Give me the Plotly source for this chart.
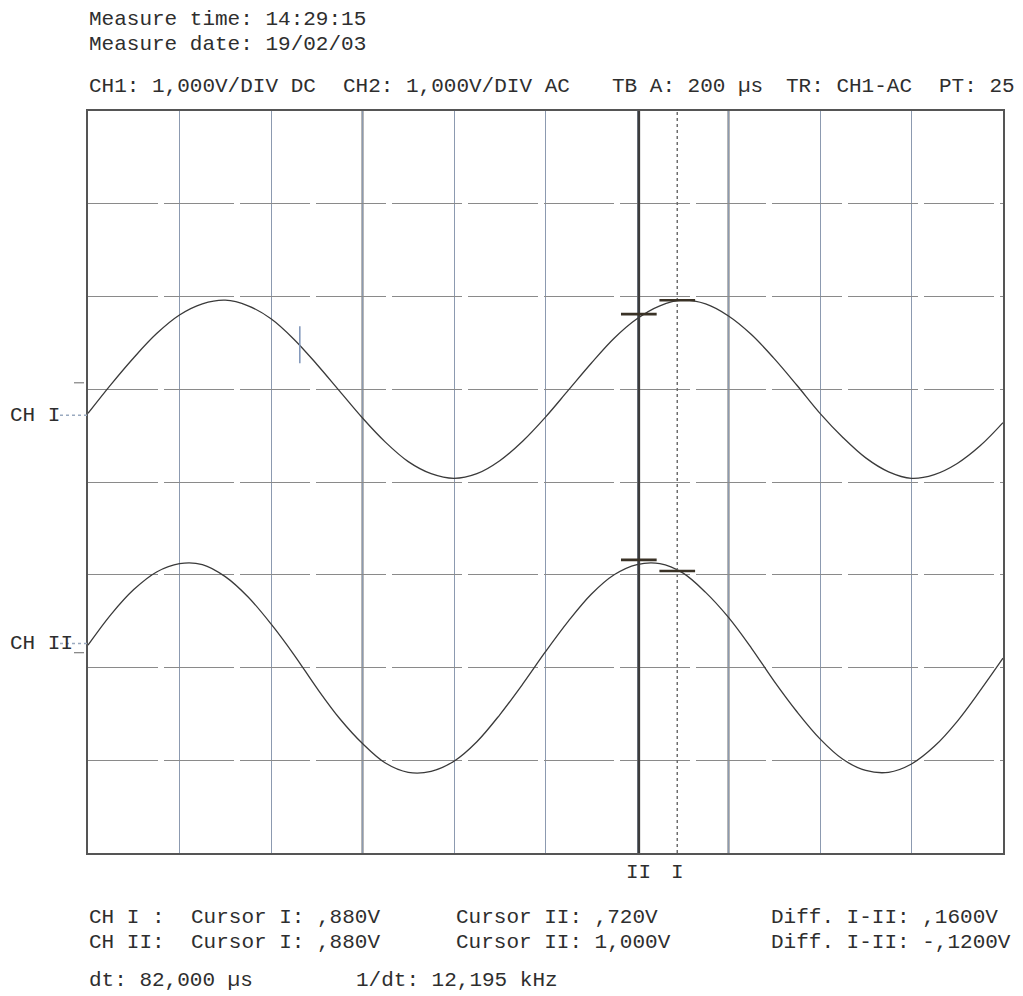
import plotly.graph_objects as go

# ---------------- data ----------------
time_us = [0, 50, 100, 150, 200, 250, 300, 350, 400, 450,
           500, 550, 600, 650, 700, 750, 800, 850, 900, 950,
           1000, 1050, 1100, 1150, 1200, 1250, 1300, 1350, 1400, 1450,
           1500, 1550, 1600, 1650, 1700, 1750, 1800, 1850, 1900, 1950, 2000]

# screen divisions (0 = centre line, +-4 = frame)
ch1_div = [0.74, 1.05, 1.34, 1.60, 1.80, 1.92, 1.96, 1.90, 1.76, 1.54,
           1.27, 0.98, 0.69, 0.43, 0.22, 0.09, 0.04, 0.09, 0.23, 0.44,
           0.70, 0.99, 1.28, 1.55, 1.76, 1.90, 1.96, 1.92, 1.79, 1.59,
           1.33, 1.04, 0.74, 0.48, 0.26, 0.11, 0.04, 0.08, 0.20, 0.39, 0.64]

ch2_div = [-1.76, -1.43, -1.16, -0.97, -0.88, -0.89, -1.02, -1.24, -1.53, -1.86,
           -2.22, -2.55, -2.82, -3.03, -3.13, -3.12, -3.01, -2.80, -2.51, -2.18,
           -1.83, -1.50, -1.21, -1.00, -0.89, -0.88, -0.98, -1.19, -1.46, -1.79,
           -2.15, -2.48, -2.77, -2.99, -3.11, -3.13, -3.04, -2.85, -2.58, -2.25, -1.90]

cursor_names = ["I", "II"]
cursor_time_us = [1288, 1204]
ch1_cursor_div = [1.96, 1.81]
ch2_cursor_div = [-0.96, -0.84]

channel_names = ["CH I", "CH II"]
ground_div = [0.72, -1.74]
trig_level_div = [1.07, -1.84]

trigger_time_us = 463
trigger_mark_div = 1.48

header_lines = ["Measure time: 14:29:15", "Measure date: 19/02/03"]
setup_items = ["CH1: 1,000V/DIV DC", "CH2: 1,000V/DIV AC", "TB A: 200 µs",
               "TR: CH1-AC", "PT: 25"]
readout_row1 = ["CH I :", "Cursor I: ,880V", "Cursor II: ,720V", "Diff. I-II: ,1600V"]
readout_row2 = ["CH II:", "Cursor I: ,880V", "Cursor II: 1,000V", "Diff. I-II: -,1200V"]
readout_row3 = ["dt: 82,000 µs", "1/dt: 12,195 kHz"]

# ---------------- layout helpers ----------------
OFF = 8                      # page body margin
W, H = 1023 - OFF, 996 - OFF
L, R, T, B = 88, 1003, 111, 853   # frame in reference pixels


def px(x):
    return (x - L) / (R - L)


def py(y):
    return (B - y) / (B - T)


FONT = dict(family="Liberation Mono, Courier New, monospace", size=21, color="#2e2e2e")
TRACE_COLOR = "#3a3a3a"

fig = go.Figure()
fig.add_trace(go.Scatter(x=time_us, y=ch1_div, mode="lines",
                         line=dict(color=TRACE_COLOR, width=1.3, shape="spline"),
                         hoverinfo="skip", showlegend=False))
fig.add_trace(go.Scatter(x=time_us, y=ch2_div, mode="lines",
                         line=dict(color=TRACE_COLOR, width=1.3, shape="spline"),
                         hoverinfo="skip", showlegend=False))

shapes = []
# darker grid lines
for xv in [600, 1400]:
    shapes.append(dict(type="line", xref="x", yref="paper", x0=xv, x1=xv, y0=0, y1=1,
                       line=dict(color="#4a4a4a", width=1.8), layer="between"))
# cursor lines
shapes.append(dict(type="line", xref="x", yref="paper", x0=cursor_time_us[1], x1=cursor_time_us[1],
                   y0=0, y1=1, line=dict(color="#3c3c3c", width=2.6)))
shapes.append(dict(type="line", xref="x", yref="paper", x0=cursor_time_us[0], x1=cursor_time_us[0],
                   y0=0, y1=1, line=dict(color="#6d6d6d", width=1.5, dash="dot")))
# cursor markers on traces
for t, v1, v2 in zip(cursor_time_us, ch1_cursor_div, ch2_cursor_div):
    for v in (v1, v2):
        shapes.append(dict(type="line", xref="x", yref="y", x0=t - 39, x1=t + 39, y0=v, y1=v,
                           line=dict(color="#3a3226", width=2.6)))
# trigger point tick
shapes.append(dict(type="line", xref="x", yref="y", x0=trigger_time_us, x1=trigger_time_us,
                   y0=trigger_mark_div - 0.2, y1=trigger_mark_div + 0.2,
                   line=dict(color="#7d93b8", width=1.5)))
# ground markers and trigger level ticks (outside the frame, left)
for g in ground_div:
    shapes.append(dict(type="line", xref="paper", yref="y", x0=px(60), x1=px(88), y0=g, y1=g,
                       line=dict(color="#9aaac0", width=1.5, dash="dot")))
for tl in trig_level_div:
    shapes.append(dict(type="line", xref="paper", yref="y", x0=px(74), x1=px(84), y0=tl, y1=tl,
                       line=dict(color="#8a8a8a", width=1.3)))

annotations = []


def text(s, x, y, xanchor="left"):
    annotations.append(dict(text=s, xref="paper", yref="paper", x=px(x), y=py(y),
                            xanchor=xanchor, yanchor="middle", showarrow=False, font=FONT,
                            borderpad=0))


text(header_lines[0], 88, 20)
text(header_lines[1], 88, 44)
for s, x in zip(setup_items, [88, 342, 611, 785, 938]):
    text(s, x, 86)
for s, x in zip(readout_row1, [88, 190, 455, 770]):
    text(s, x, 917)
for s, x in zip(readout_row2, [88, 190, 455, 770]):
    text(s, x, 942)
for s, x in zip(readout_row3, [88, 355]):
    text(s, x, 980)

for name, g in zip(channel_names, ground_div):
    annotations.append(dict(text=name, xref="paper", yref="y", x=px(9), y=g,
                            xanchor="left", yanchor="middle", showarrow=False, font=FONT,
                            borderpad=0))
for name, t in zip(cursor_names, cursor_time_us):
    annotations.append(dict(text=name, xref="x", yref="paper", x=t, y=py(872),
                            xanchor="center", yanchor="middle", showarrow=False, font=FONT,
                            borderpad=0))

fig.update_layout(
    width=W, height=H, autosize=False,
    margin=dict(l=L - OFF, r=1023 - R, t=T - OFF, b=996 - B, pad=0),
    paper_bgcolor="white", plot_bgcolor="white",
    shapes=shapes, annotations=annotations,
    xaxis=dict(range=[0, 2000], dtick=200, tick0=0, showticklabels=False, ticks="",
               showgrid=True, gridcolor="#8c9ab0", gridwidth=1.4, zeroline=False,
               showline=True, mirror=True, linecolor="#555555", linewidth=2),
    yaxis=dict(range=[-4, 4], dtick=1, tick0=0, showticklabels=False, ticks="",
               showgrid=True, gridcolor="#8a8a8a", gridwidth=1.4, griddash="70px,6px",
               zeroline=False,
               showline=True, mirror=True, linecolor="#555555", linewidth=2),
)

fig.write_html("out.html")
